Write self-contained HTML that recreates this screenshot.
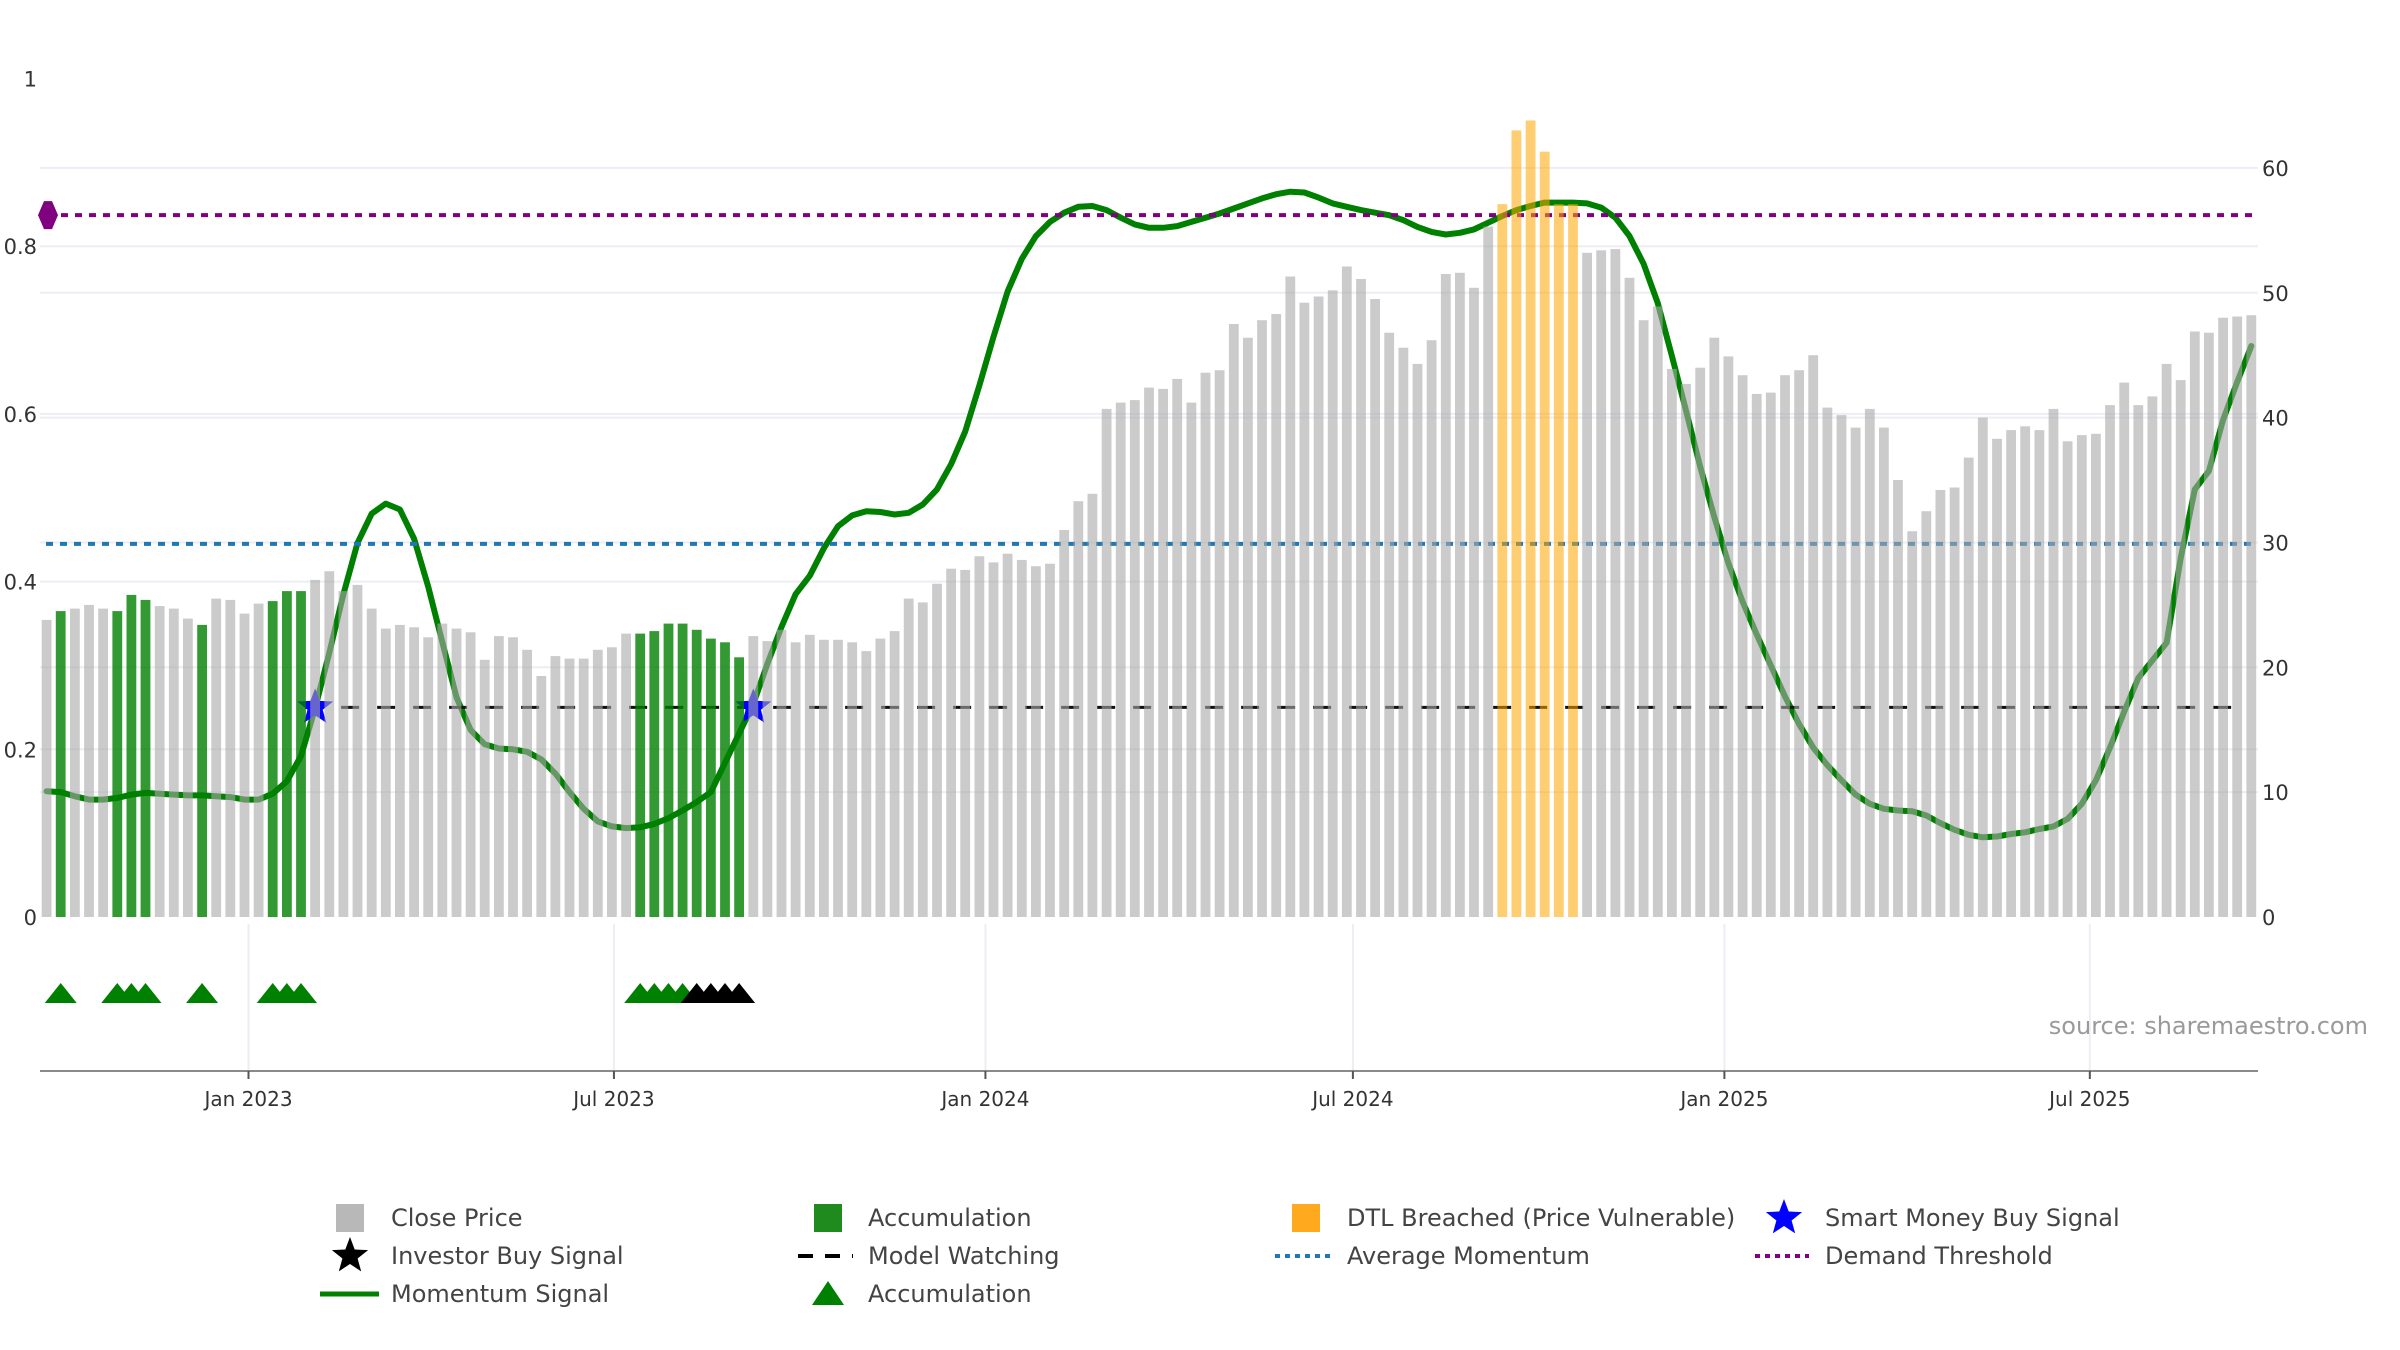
<!DOCTYPE html>
<html><head><meta charset="utf-8"><style>
html,body{margin:0;padding:0;background:#fff;}
svg{display:block;font-family:"DejaVu Sans","Liberation Sans",sans-serif;}
</style></head><body>
<svg id="chart" width="2400" height="1350" viewBox="0 0 2400 1350" xmlns="http://www.w3.org/2000/svg">
<g id="grid"></g>
<g id="lines"></g>
<g id="bars"></g>
<g id="markers"></g>
<g id="axes"></g>
<text x="2368" y="1034" text-anchor="end" font-size="24" fill="#9a9a9a">source: sharemaestro.com</text>
<g id="legend"></g>
</svg>
<script>
// ---- data ----
const startDate = "2022-09-23";
const prices = [23.8,24.5,24.7,25.0,24.7,24.5,25.8,25.4,24.9,24.7,23.9,23.4,25.5,25.4,24.3,25.1,25.3,26.1,26.1,27.0,
27.7,26.1,26.6,24.7,23.1,23.4,23.2,22.4,23.5,23.1,22.8,20.6,22.5,22.4,21.4,19.3,20.9,20.7,20.7,21.4,
21.6,22.7,22.7,22.9,23.5,23.5,23.0,22.3,22.0,20.8,22.5,22.1,23.0,22.0,22.6,22.2,22.2,22.0,21.3,22.3,
22.9,25.5,25.2,26.7,27.9,27.8,28.9,28.4,29.1,28.6,28.1,28.3,31.0,33.3,33.9,40.7,41.2,41.4,42.4,42.3,
43.1,41.2,43.6,43.8,47.5,46.4,47.8,48.3,51.3,49.2,49.7,50.2,52.1,51.1,49.5,46.8,45.6,44.3,46.2,51.5,
51.6,50.4,55.3,57.1,63.0,63.8,61.3,57.1,57.1,53.2,53.4,53.5,51.2,47.8,48.9,43.9,42.7,44.0,46.4,44.9,
43.4,41.9,42.0,43.4,43.8,45.0,40.8,40.2,39.2,40.7,39.2,35.0,30.9,32.5,34.2,34.4,36.8,40.0,38.3,39.0,
39.3,39.0,40.7,38.1,38.6,38.7,41.0,42.8,41.0,41.7,44.3,43.0,46.9,46.8,48.0,48.1,48.2];
const momentum = [0.150,0.149,0.144,0.140,0.140,0.142,0.146,0.148,0.147,0.146,0.145,0.145,0.144,0.143,0.140,0.140,0.147,0.162,0.192,0.249,
0.315,0.385,0.446,0.481,0.493,0.486,0.451,0.394,0.328,0.262,0.223,0.206,0.201,0.200,0.197,0.188,0.171,0.149,0.129,0.114,
0.108,0.106,0.107,0.111,0.118,0.127,0.137,0.149,0.184,0.219,0.254,0.302,0.346,0.385,0.407,0.440,0.466,0.479,0.484,0.483,
0.480,0.482,0.492,0.510,0.540,0.579,0.634,0.692,0.746,0.785,0.812,0.829,0.840,0.847,0.848,0.843,0.834,0.826,0.822,0.822,
0.824,0.829,0.834,0.839,0.845,0.851,0.857,0.862,0.865,0.864,0.858,0.851,0.847,0.843,0.840,0.837,0.831,0.823,0.817,0.814,
0.816,0.820,0.828,0.836,0.843,0.848,0.852,0.852,0.852,0.851,0.846,0.834,0.812,0.779,0.732,0.669,0.604,0.537,0.477,0.422,
0.376,0.337,0.300,0.263,0.230,0.202,0.181,0.163,0.146,0.135,0.129,0.127,0.126,0.121,0.112,0.104,0.098,0.095,0.096,0.099,
0.101,0.105,0.108,0.117,0.135,0.163,0.202,0.245,0.285,0.306,0.327,0.428,0.510,0.532,0.593,0.638,0.681];
const accumulationBars = [2,6,7,8,12,17,18,19,43,44,45,46,47,48,49,50];
const dtlBars = [104,105,106,107,108,109];
const accumTriangles = [2,6,7,8,12,17,18,19,43,44,45,46];
const investorTriangles = [47,48,49,50];
const smartMoneyStars = [20,51];
const demandThreshold = 0.837;
const avgMomentum = 0.445;
const modelWatching = 0.25;
const watchStartBar = 20;
const leftTicks = [0,0.2,0.4,0.6,0.8,1];
const leftTickLabels = ["0","0.2","0.4","0.6","0.8","1"];
const rightTicks = [0,10,20,30,40,50,60];
const xTickDates = ["2023-01-01","2023-07-01","2024-01-01","2024-07-01","2025-01-01","2025-07-01"];
const xTickLabels = ["Jan 2023","Jul 2023","Jan 2024","Jul 2024","Jan 2025","Jul 2025"];

// ---- scales ----
const NS="http://www.w3.org/2000/svg";
const X0=40, X1=2258, Y0=917;
const day0 = Date.parse("2023-01-01");
function xDate(s){ return 248.5 + 2.019*((Date.parse(s)-day0)/86400000); }
function xBar(i){ const d=(Date.parse(startDate)-day0)/86400000 + 7*(i-1); return 248.5 + 2.019*d; }
function yL(v){ return Y0 - 838.5*v; }
function yR(v){ return Y0 - 12.485*v; }
function mk(tag, attrs, parent){ const e=document.createElementNS(NS,tag); for(const k in attrs) e.setAttribute(k,attrs[k]); parent.appendChild(e); return e; }
const G=id=>document.getElementById(id);

// grid
const grid=G('grid');
[0.2,0.4,0.6,0.8].forEach(v=>{ const l=mk('line',{x1:X0,x2:X1,y1:yL(v),y2:yL(v),stroke:'#eceef4','stroke-width':2},grid);
  });
rightTicks.slice(1).forEach(v=>{ const l=mk('line',{x1:X0,x2:X1,y1:yR(v),y2:yR(v),stroke:'#eceef4','stroke-width':2},grid);
  });
xTickDates.forEach(d=>{ const l=mk('line',{x1:xDate(d),x2:xDate(d),y1:924,y2:1071,stroke:'#eceef4','stroke-width':2},grid);
  });

// lines
const lines=G('lines');
let pts=momentum.map((v,i)=>xBar(i+1).toFixed(1)+','+yL(v).toFixed(1)).join(' ');
const ml=mk('polyline',{points:pts,fill:'none',stroke:'#008000','stroke-width':6,'stroke-linejoin':'round','stroke-linecap':'round'},lines);
 
const wl=mk('line',{x1:xBar(watchStartBar)-10,x2:2244,y1:yL(modelWatching),y2:yL(modelWatching),stroke:'#111','stroke-width':3,'stroke-dasharray':'18 18'},lines);
 
const pl=mk('line',{x1:47,x2:2256,y1:yL(demandThreshold),y2:yL(demandThreshold),stroke:'#800080','stroke-width':4,'stroke-dasharray':'7 7'},lines);
 
const bl=mk('line',{x1:46,x2:2256,y1:yL(avgMomentum),y2:yL(avgMomentum),stroke:'#1f77b4','stroke-width':4,'stroke-dasharray':'7 7'},lines);
 
const dy=yL(demandThreshold);
const dm=mk('polygon',{points:`38,${dy} 44,${dy-14} 52,${dy-14} 58,${dy} 52,${dy+14} 44,${dy+14}`,fill:'#800080'},lines);
 

function starPts(cx,cy,R,r){ let p=[]; for(let k=0;k<10;k++){ const a=-Math.PI/2+k*Math.PI/5; const rr=k%2?r:R; p.push((cx+rr*Math.cos(a)).toFixed(1)+','+(cy+rr*Math.sin(a)).toFixed(1)); } return p.join(' '); }
smartMoneyStars.forEach(b=>{ const s=mk('polygon',{points:starPts(xBar(b),yL(modelWatching),19,8),fill:'#0000ff'},lines);
  });

// bars
const bars=G('bars');
prices.forEach((v,i)=>{ const n=i+1; let fill='#a8a8a8',op=0.6,name='price-bar';
 if(accumulationBars.includes(n)){fill='#008000';op=0.8;name='accumulation-bar';}
 if(dtlBars.includes(n)){fill='#ffa500';op=0.55;name='dtl-breached-bar';}
 const r=mk('rect',{x:(xBar(n)-4.9).toFixed(1),y:yR(v).toFixed(1),width:9.8,height:(Y0-yR(v)).toFixed(1),fill:fill,'fill-opacity':op},bars);
   });

// triangles
const markers=G('markers');
function tri(b,col,name){ const cx=xBar(b); const t=mk('polygon',{points:`${cx-16},1003 ${cx},983 ${cx+16},1003`,fill:col},markers);
   }
accumTriangles.forEach(b=>tri(b,'#008000','accumulation-triangle'));
investorTriangles.forEach(b=>tri(b,'#000000','investor-buy-triangle'));

// axes
const axes=G('axes');
const ax=mk('line',{x1:X0,x2:X1,y1:1071,y2:1071,stroke:'#8a8a8a','stroke-width':2},axes);
 
xTickDates.forEach((d,i)=>{ const x=xDate(d);
 const t=mk('line',{x1:x,x2:x,y1:1071,y2:1079,stroke:'#555','stroke-width':2},axes);
  
 const tx=mk('text',{x:x,y:1106,'text-anchor':'middle','font-size':20,fill:'#333'},axes); tx.textContent=xTickLabels[i];
   });
leftTicks.forEach((v,i)=>{ const tx=mk('text',{x:37,y:yL(v)+8,'text-anchor':'end','font-size':21,fill:'#333'},axes); tx.textContent=leftTickLabels[i];
   });
rightTicks.forEach(v=>{ const tx=mk('text',{x:2262,y:yR(v)+8,'font-size':21,fill:'#333'},axes); tx.textContent=String(v);
   });

// legend
const lg=G('legend');
const rows=[1218,1256,1294];
function ltext(x,y,s){ const t=mk('text',{x:x,y:y+8,'font-size':24,fill:'#444'},lg); t.textContent=s;
   }
function lrect(cx,cy,col,name){ const r=mk('rect',{x:cx-14,y:cy-14,width:28,height:28,fill:col},lg);
   }
lrect(350,rows[0],'#b8b8b8','legend-close-price'); ltext(391,rows[0],'Close Price');
const s1=mk('polygon',{points:starPts(350,rows[1],19,8),fill:'#000'},lg);  
ltext(391,rows[1],'Investor Buy Signal');
const l1=mk('line',{x1:320,x2:379,y1:rows[2],y2:rows[2],stroke:'#008000','stroke-width':5},lg);  
ltext(391,rows[2],'Momentum Signal');
lrect(828,rows[0],'#1f8b1f','legend-accumulation-bar'); ltext(868,rows[0],'Accumulation');
const l2=mk('line',{x1:798,x2:853,y1:rows[1],y2:rows[1],stroke:'#000','stroke-width':4,'stroke-dasharray':'15 12'},lg);  
ltext(868,rows[1],'Model Watching');
const t2=mk('polygon',{points:`812,${rows[2]+11} 828,${rows[2]-13} 844,${rows[2]+11}`,fill:'#008000'},lg);  
ltext(868,rows[2],'Accumulation');
lrect(1306,rows[0],'#ffa91f','legend-dtl-breached'); ltext(1347,rows[0],'DTL Breached (Price Vulnerable)');
const l3=mk('line',{x1:1275,x2:1331,y1:rows[1],y2:rows[1],stroke:'#1f77b4','stroke-width':4,'stroke-dasharray':'5 5'},lg);  
ltext(1347,rows[1],'Average Momentum');
const s2=mk('polygon',{points:starPts(1784,rows[0],19,8),fill:'#0000ff'},lg);  
ltext(1825,rows[0],'Smart Money Buy Signal');
const l4=mk('line',{x1:1755,x2:1809,y1:rows[1],y2:rows[1],stroke:'#800080','stroke-width':4,'stroke-dasharray':'5 5'},lg);  
ltext(1825,rows[1],'Demand Threshold');
</script>
</body></html>
